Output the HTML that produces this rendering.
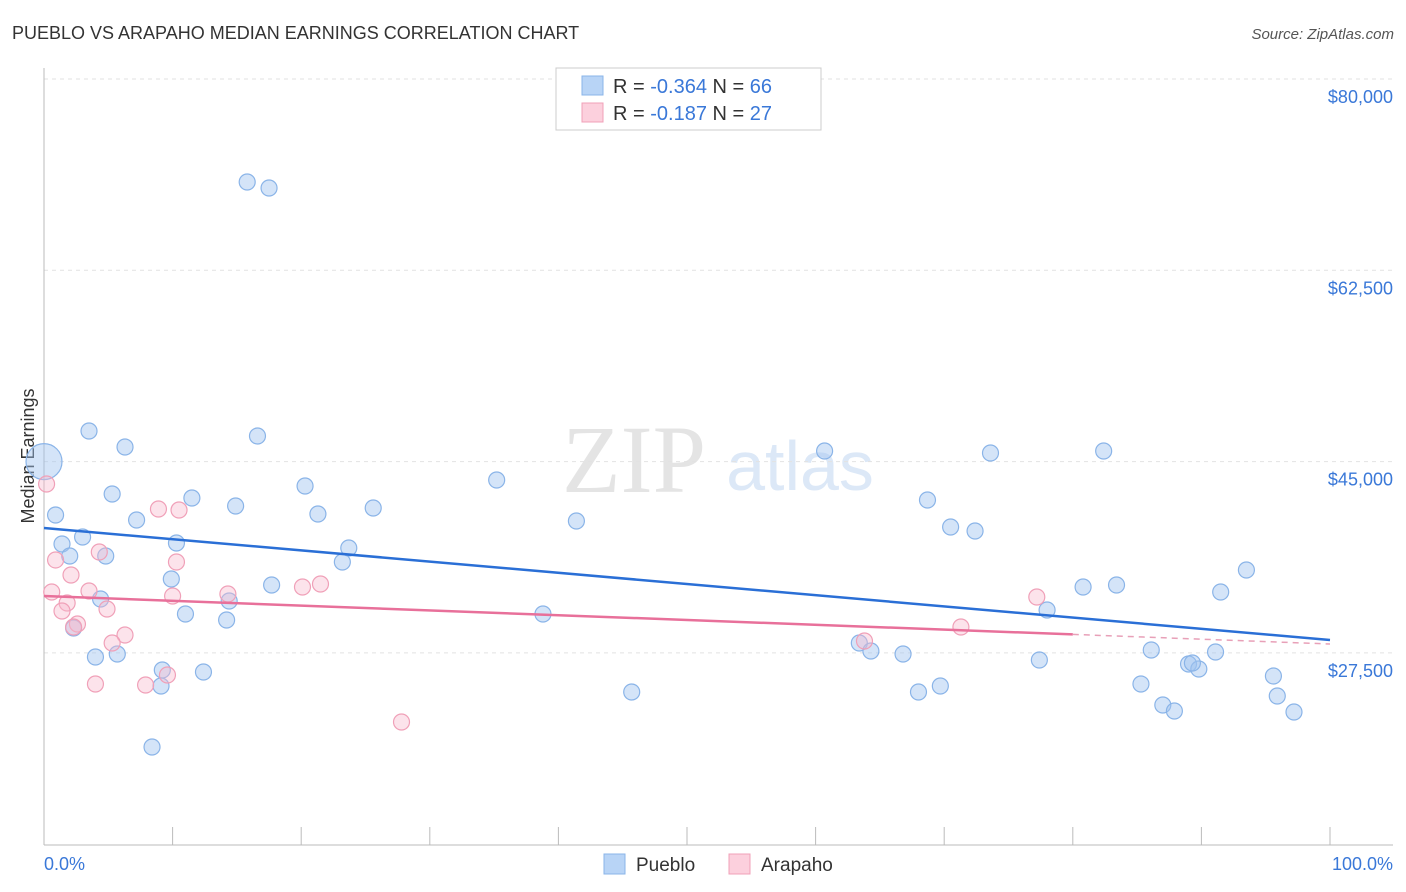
<!DOCTYPE html>
<html><head><meta charset="utf-8"><style>
body{margin:0;background:#fff;font-family:"Liberation Sans",sans-serif}
</style></head><body>
<svg id="c" width="1406" height="892" style="display:block">
<text x="12" y="39" font-size="18" fill="#333">PUEBLO VS ARAPAHO MEDIAN EARNINGS CORRELATION CHART</text>
<text x="1394" y="39" font-size="15" fill="#555" text-anchor="end" font-style="italic">Source: ZipAtlas.com</text>
<text x="634" y="492" font-size="96" fill="#e4e4e4" font-family="Liberation Serif,serif" text-anchor="middle">ZIP</text>
<text x="800" y="490" font-size="70" fill="#dce8f7" text-anchor="middle">atlas</text>
<text transform="translate(34,456) rotate(-90)" font-size="18" fill="#333" text-anchor="middle">Median Earnings</text>
<g id="grid"></g><g id="pts"></g><g id="lines"></g>
<g>
<rect x="556" y="68" width="265" height="62" fill="#fff" stroke="#ccc"/>
<rect x="582" y="76" width="21" height="19" fill="#b8d4f6" stroke="#8ab4e8"/>
<rect x="582" y="103" width="21" height="19" fill="#fcd0dd" stroke="#f0a0b8"/>
<text x="613" y="93" font-size="20" fill="#333">R = <tspan fill="#3a78d8">-0.364</tspan>   N = <tspan fill="#3a78d8">66</tspan></text>
<text x="613" y="120" font-size="20" fill="#333">R =  <tspan fill="#3a78d8">-0.187</tspan>   N = <tspan fill="#3a78d8">27</tspan></text>
</g>
<g>
<rect x="604" y="854" width="21" height="20" fill="#b8d4f6" stroke="#8ab4e8"/>
<text x="636" y="871" font-size="19" fill="#333">Pueblo</text>
<rect x="729" y="854" width="21" height="20" fill="#fcd0dd" stroke="#f0a0b8"/>
<text x="761" y="871" font-size="19" fill="#333">Arapaho</text>
</g>
<text x="44" y="870" font-size="18" fill="#3a78d8">0.0%</text>
<text x="1393" y="870" font-size="18" fill="#3a78d8" text-anchor="end">100.0%</text>
</svg>
<script>
const yTicks=[80000,62500,45000,27500];
const yTickLabels=["$80,000","$62,500","$45,000","$27,500"];
const xTicks=[0,10,20,30,40,50,60,70,80,90,100];
const puebloX=[0,15.8,17.5,3.5,6.3,16.6,60.7,73.6,82.4,35.2,5.3,11.5,20.3,14.9,21.3,25.6,0.9,7.2,41.4,68.7,70.5,72.4,3.0,1.4,10.3,2.0,4.8,23.7,23.2,9.9,17.7,93.5,80.8,83.4,91.5,4.4,14.4,11.0,14.2,38.8,78.0,2.3,63.4,64.3,66.8,4.0,5.7,77.4,86.1,91.1,89.0,89.8,89.3,9.2,12.4,95.6,9.1,45.7,68.0,69.7,85.3,95.9,87.0,87.9,97.2,8.4];
const puebloY=[45000,70577,70028,47799,46336,47342,45970,45787,45970,43317,42036,41670,42768,40938,40206,40755,40115,39658,39566,41487,39017,38651,38102,37462,37554,36365,36365,37096,35816,34261,33712,35084,33529,33712,33071,32431,32248,31059,30510,31059,31425,29778,28406,27674,27399,27125,27399,26850,27765,27582,26484,26027,26576,25935,25752,25386,24471,23923,23923,24471,24654,23557,22734,22185,22093,18891];
const arapahoX=[0.2,8.9,10.5,0.9,4.3,10.3,2.1,0.6,3.5,10.0,14.3,20.1,21.5,77.2,1.8,1.4,4.9,2.6,2.3,6.3,5.3,9.6,63.8,71.3,4.0,7.9,27.8];
const arapahoY=[42951,40664,40572,36000,36731,35816,34627,33071,33163,32706,32889,33529,33803,32614,32065,31333,31516,30144,29870,29138,28406,25478,28589,29870,24654,24563,21178];
const puebloTrend=[38925,28680];
const arapahoTrend=[32705,28314];
const arapahoSolidEnd=80;
const NS="http://www.w3.org/2000/svg";
const X=v=>44+v*12.86;
const Y=v=>79+(80000-v)/91.48;
function mk(t,a,p){const e=document.createElementNS(NS,t);for(const k in a)e.setAttribute(k,a[k]);p.appendChild(e);return e;}
const grid=document.getElementById('grid');
yTicks.forEach((t,i)=>{
 const l=mk('line',{x1:44,x2:1393,y1:Y(t),y2:Y(t),stroke:'#e2e2e2','stroke-dasharray':'4,4'},grid);
 
 
 const tx=mk('text',{x:1393,y:Y(t)+24,'font-size':18,fill:'#3a78d8','text-anchor':'end'},grid);
 tx.textContent=yTickLabels[i];
 
 
});
const ya=mk('line',{x1:44,x2:44,y1:68,y2:845,stroke:'#bbb'},grid);


const xa=mk('line',{x1:44,x2:1393,y1:845,y2:845,stroke:'#bbb'},grid);


xTicks.forEach(t=>{
 const l=mk('line',{x1:X(t),x2:X(t),y1:827,y2:845,stroke:'#bbb'},grid);
 
 
});
const pts=document.getElementById('pts');
puebloX.forEach((x,i)=>{
 const c=mk('circle',{cx:X(x),cy:Y(puebloY[i]),r:i===0?18:8,fill:'rgba(160,196,240,0.45)',stroke:'#8ab4e8','stroke-width':1.2},pts);
 
 
});
arapahoX.forEach((x,i)=>{
 const c=mk('circle',{cx:X(x),cy:Y(arapahoY[i]),r:8,fill:'rgba(248,185,205,0.4)',stroke:'#f0a0b8','stroke-width':1.2},pts);
 
 
});
const lines=document.getElementById('lines');
const bl=mk('line',{x1:X(0),y1:Y(puebloTrend[0]),x2:X(100),y2:Y(puebloTrend[1]),stroke:'#2a6fd6','stroke-width':2.5},lines);


const pm=arapahoTrend[0]+(arapahoTrend[1]-arapahoTrend[0])*arapahoSolidEnd/100;
const pl=mk('line',{x1:X(0),y1:Y(arapahoTrend[0]),x2:X(arapahoSolidEnd),y2:Y(pm),stroke:'#e8709a','stroke-width':2.5},lines);


const pd=mk('line',{x1:X(arapahoSolidEnd),y1:Y(pm),x2:X(100),y2:Y(arapahoTrend[1]),stroke:'#e8a0b8','stroke-width':1.5,'stroke-dasharray':'6,5'},lines);


</script>
</body></html>
